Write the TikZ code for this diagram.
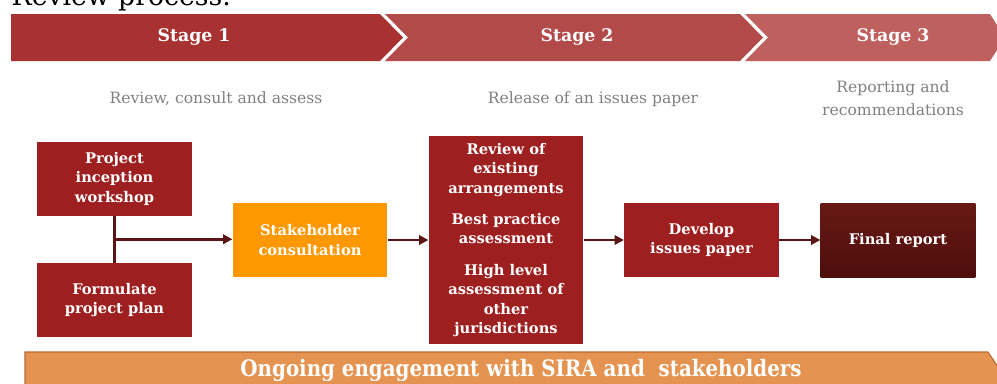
\documentclass[tikz,border=0pt]{standalone}
\usepackage{fontspec}
\setmainfont{DejaVu Serif}
\usetikzlibrary{arrows.meta}

\definecolor{stageone}{RGB}{168,50,50}
\definecolor{stagetwo}{RGB}{178,74,73}
\definecolor{stagethree}{RGB}{189,96,94}
\definecolor{boxred}{RGB}{158,31,31}
\definecolor{boxorange}{RGB}{253,152,0}
\definecolor{finaltop}{RGB}{104,25,22}
\definecolor{finalbot}{RGB}{78,14,12}
\definecolor{wirecol}{RGB}{92,20,20}
\definecolor{bannerfill}{RGB}{228,148,80}
\definecolor{bannerline}{RGB}{184,104,46}
\definecolor{greytext}{RGB}{128,128,128}

\begin{document}
\begin{tikzpicture}[x=0.75pt, y=-0.75pt, >={Triangle[length=7pt,width=7pt]},
                    block/.style={rectangle, fill=boxred, text=white, align=center, inner sep=2pt,
                                  minimum width=116pt, minimum height=55.5pt,
                                  font=\bfseries\fontsize{11}{14.6}\selectfont},
                    wire/.style={draw=wirecol, line width=2.2pt},
                    stagelabel/.style={text=white, font=\bfseries\fontsize{13}{15}\selectfont},
                    note/.style={text=greytext, align=center, font=\fontsize{11.7}{17.3}\selectfont}]
  \useasboundingbox (0,0) rectangle (997,383);
  \node[anchor=base west, font=\fontsize{20}{24}\selectfont] (title) at (7,5) {Review process:};
  % stage banner
  \fill[stageone] (11,14) -- (380,14) -- (403,37.5) -- (380,61) -- (11,61) -- cycle;
  \fill[stagetwo] (385,14) -- (740,14) -- (763,37.5) -- (740,61) -- (385,61) -- (408,37.5) -- cycle;
  \fill[stagethree] (745,14) -- (990,14) -- (1005,37.5) -- (990,61) -- (745,61) -- (768,37.5) -- cycle;
  \node[stagelabel] (s1) at (194,37) {Stage 1};
  \node[stagelabel] (s2) at (577,37) {Stage 2};
  \node[stagelabel] (s3) at (893,37) {Stage 3};
  \node[note] (n1) at (216,99) {Review, consult and assess};
  \node[note] (n2) at (593,99) {Release of an issues paper};
  \node[note] (n3) at (893,98) {Reporting and\\recommendations};
  % boxes
  \node[block] (proj) at (114.5,178.5) {Project\\inception\\workshop};
  \node[block] (plan) at (114.5,300) {Formulate\\project plan};
  \node[block, fill=boxorange] (stake) at (310,240) {Stakeholder\\consultation};
  \node[block, minimum height=156pt] (review) at (506,240)
       {Review of\\existing\\arrangements\\[9pt]Best practice\\assessment\\[9pt]High level\\assessment of\\other\\jurisdictions};
  \node[block] (develop) at (701.5,240) {Develop\\issues paper};
  \node[block, top color=finaltop, bottom color=finalbot] (final) at (898,240) {Final report};
  % connectors
  \draw[wire] (proj) -- node[coordinate] (join) {} (plan);
  \draw[wire,->] (join) -- (join -| stake.west);
  \draw[wire,->] (stake) -- (review);
  \draw[wire,->] (review) -- (develop);
  \draw[wire,->] (develop) -- (final);
  % ongoing banner
  \filldraw[fill=bannerfill, draw=bannerline, line width=0.8pt]
       (25,352) -- (988,352) -- (1012,388) -- (988,424) -- (25,424) -- cycle;
  \node[text=white, xscale=0.875, font=\bfseries\fontsize{17}{20}\selectfont] (ongoing) at (521,370)
       {Ongoing engagement with SIRA and\ \ stakeholders};
\end{tikzpicture}
\end{document}
